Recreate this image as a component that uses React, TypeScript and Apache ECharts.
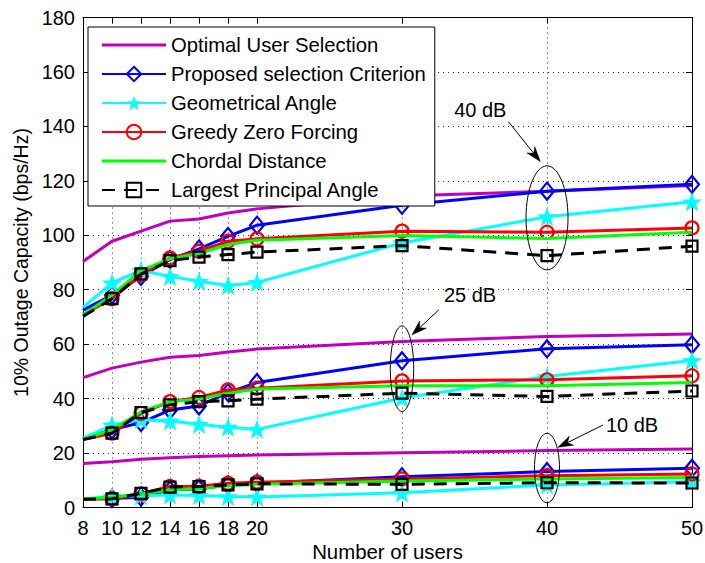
import React, { useEffect, useRef } from 'react';
import * as echarts from 'echarts';

// ---- data ----
const users = [8, 10, 12, 14, 16, 18, 20, 30, 40, 50];
const xTicks = [8, 10, 12, 14, 16, 18, 20, 30, 40, 50];
const yTicks = [0, 20, 40, 60, 80, 100, 120, 140, 160, 180];

// 40 dB
const optimal40 = [90.4, 97.8, 101.5, 105.2, 106, 108.2, 109.7, 114.4, 116.2, 118.3];
const proposed40 = [72.5, 78, 84.9, 91.1, 95, 99.6, 103.7, 111, 116.2, 118.7];
const geometric40 = [73.5, 82.5, 87.1, 84.9, 83.1, 81.5, 82.7, 97.2, 106.8, 112.3];
const greedy40 = [70.8, 76.7, 85.5, 91.7, 94.1, 97.8, 98.7, 101.5, 101.1, 102.7];
const chordal40 = [70.8, 78, 87, 91.4, 93.3, 96.6, 98.2, 99.9, 98.8, 101.1];
const largest40 = [70.2, 76.7, 85.8, 90.7, 92, 92.9, 93.8, 96.2, 92.5, 96];

// 25 dB
const optimal25 = [47.7, 51.2, 53.4, 55.2, 55.8, 57.1, 58.2, 61, 62.8, 63.7];
const proposed25 = [25.4, 28.5, 31.2, 35.8, 37.3, 42.2, 45.9, 53.9, 58.3, 59.8];
const geometric25 = [25.4, 30.3, 32.2, 31.8, 30.6, 29.5, 28.7, 40.2, 48.1, 54];
const greedy25 = [25, 27.3, 34.6, 38.9, 40.4, 43.2, 43.8, 46.5, 46.9, 48.4];
const chordal25 = [25, 28.5, 35.2, 38.9, 39.8, 42, 43.5, 44.7, 44.7, 45.9];
const largest25 = [25, 27.3, 34.9, 37.7, 38.9, 39.2, 39.8, 42, 40.8, 42.8];

// 10 dB
const optimal10 = [16.2, 16.8, 17.7, 18.3, 18.7, 19, 19.3, 20.1, 20.9, 21.5];
const proposed10 = [3.1, 3.3, 3.8, 6.4, 6.9, 8.3, 8.9, 11.3, 13.2, 14.4];
const geometric10 = [3.1, 4, 4.3, 4.6, 4.4, 4, 3.9, 5.4, 8.3, 9.5];
const greedy10 = [3.1, 3.2, 5, 7.7, 7.8, 8.9, 9.3, 10.5, 11.7, 12.3];
const chordal10 = [3.1, 3.8, 5, 6.4, 7, 8, 8.5, 9.7, 10.5, 11];
const largest10 = [3, 3.2, 5.2, 7.5, 7.7, 8.3, 8.7, 8.5, 9.1, 9];

const methodNames = [
  'Optimal User Selection',
  'Proposed selection Criterion',
  'Geometrical Angle',
  'Greedy Zero Forcing',
  'Chordal Distance',
  'Largest Principal Angle',
];
const methodData = [
  [optimal40, optimal25, optimal10],
  [proposed40, proposed25, proposed10],
  [geometric40, geometric25, geometric10],
  [greedy40, greedy25, greedy10],
  [chordal40, chordal25, chordal10],
  [largest40, largest25, largest10],
];

// SNR annotations (anchor = ellipse centre, in data units)
const snrLabels = ['40 dB', '25 dB', '10 dB'];
const snrAnchorX = [40, 30, 40];
const snrAnchorY = [106.4, 51, 14.5];

// ---- styles ----
const FONT = 'Liberation Sans, Arial, Helvetica, sans-serif';
const STAR =
  'path://M0,-10 L2.35,-3.24 L9.51,-3.09 L3.8,1.24 L5.88,8.09 L0,4 L-5.88,8.09 L-3.8,1.24 L-9.51,-3.09 L-2.35,-3.24 Z';
const LINE_ICON = 'path://M0,0 L64,0 L64,3 L0,3 Z';

const methodStyles = [
  { color: '#BF00BF', symbol: 'none', size: 0, hollow: false, dash: 'solid' as any },
  { color: '#0000FF', symbol: 'diamond', size: [14, 17], hollow: true, dash: 'solid' as any },
  { color: '#00FFFF', symbol: STAR, size: [20, 19], hollow: false, dash: 'solid' as any },
  { color: '#FF0000', symbol: 'circle', size: 13, hollow: true, dash: 'solid' as any },
  { color: '#00FF00', symbol: 'none', size: 0, hollow: false, dash: 'solid' as any },
  { color: '#000000', symbol: 'rect', size: 11, hollow: true, dash: [13, 9] as any },
];

// pixel geometry of annotations relative to ellipse centre
const annGeom = [
  { rx: 21, ry: 52, text: [-66.7, -107.8], from: [-38.7, -96.3], to: [-6.7, -56.3] },
  { rx: 11.7, ry: 42.8, text: [68, -73.8], from: [36.8, -58.8], to: [10, -33.8] },
  { rx: 12.5, ry: 34.7, text: [85, -43], from: [56, -43], to: [11, -20.7] },
];

function buildSeries() {
  const series: any[] = [];
  methodNames.forEach((name, m) => {
    const st = methodStyles[m];
    methodData[m].forEach((vals) => {
      series.push({
        type: 'line',
        name,
        data: users.map((u, i) =>
          i === 0 ? { value: [u, vals[i]], symbol: 'none' } : [u, vals[i]]
        ),
        symbol: st.symbol,
        symbolSize: st.size,
        showSymbol: st.symbol !== 'none',
        silent: true,
        emphasis: { disabled: true },
        z: 2 + m,
        lineStyle: { color: st.color, width: 3, type: st.dash },
        itemStyle: st.hollow
          ? { color: 'rgba(255,255,255,0)', borderColor: st.color, borderWidth: 2.2 }
          : { color: st.color, borderWidth: 0 },
      });
    });
  });
  return series;
}

const legendData = methodNames.map((name, m) =>
  methodStyles[m].symbol === 'none'
    ? { name, icon: LINE_ICON, itemStyle: { color: methodStyles[m].color } }
    : { name }
);

const axisCommon = {
  axisLine: { show: true, onZero: false, lineStyle: { color: '#000', width: 1 } },
  axisTick: { show: true, inside: true, length: 6, lineStyle: { color: '#000', width: 1 } },
};

const option: any = {
  animation: false,
  backgroundColor: '#fff',
  grid: { left: 83, right: 13, top: 17.5, bottom: 55.5, containLabel: false, outerBoundsMode: 'none' },
  legend: {
    data: legendData,
    orient: 'vertical',
    left: 88,
    top: 27,
    padding: [8, 9, 6, 13],
    itemGap: 9,
    itemWidth: 64,
    itemHeight: 18,
    backgroundColor: '#fff',
    borderColor: '#000',
    borderWidth: 1,
    borderRadius: 0,
    selectedMode: false,
    textStyle: { fontFamily: FONT, fontSize: 20.3, color: '#000' },
    z: 20,
  },
  xAxis: [
    {
      type: 'value',
      min: 8,
      max: 50,
      position: 'bottom',
      ...axisCommon,
      axisTick: { ...axisCommon.axisTick, customValues: xTicks },
      axisLabel: {
        show: true,
        customValues: xTicks,
        margin: 10,
        color: '#000',
        fontFamily: FONT,
        fontSize: 20,
      },
      splitLine: { show: true, lineStyle: { color: '#333', width: 1, type: [1, 4] } },
      name: 'Number of users',
      nameLocation: 'middle',
      nameGap: 33,
      nameTextStyle: { fontFamily: FONT, fontSize: 20.4, color: '#000' },
    },
    {
      type: 'value',
      min: 8,
      max: 50,
      position: 'top',
      ...axisCommon,
      axisTick: { ...axisCommon.axisTick, customValues: xTicks },
      axisLabel: { show: false },
      splitLine: { show: false },
    },
  ],
  yAxis: [
    {
      type: 'value',
      min: 0,
      max: 180,
      interval: 20,
      position: 'left',
      ...axisCommon,
      axisLabel: {
        show: true,
        margin: 8,
        color: '#000',
        fontFamily: FONT,
        fontSize: 20,
        formatter: (v: number) => (yTicks.includes(v) ? String(v) : ''),
      },
      splitLine: { show: true, lineStyle: { color: '#333', width: 1, type: [1, 4] } },
      name: '10% Outage Capacity (bps/Hz)',
      nameLocation: 'middle',
      nameGap: 46,
      nameTextStyle: { fontFamily: FONT, fontSize: 19.5, color: '#000' },
    },
    {
      type: 'value',
      min: 0,
      max: 180,
      interval: 20,
      position: 'right',
      ...axisCommon,
      axisLabel: { show: false },
      splitLine: { show: false },
    },
  ],
  series: buildSeries(),
};

export default function App() {
  const ref = useRef<HTMLDivElement>(null);
  useEffect(() => {
    document.body.style.margin = '0';
    const chart = echarts.init(ref.current!, null, { renderer: 'svg' });
    chart.setOption(option);

    const elements: any[] = [];
    snrLabels.forEach((label, i) => {
      const p = chart.convertToPixel({ xAxisIndex: 0, yAxisIndex: 0 } as any, [snrAnchorX[i], snrAnchorY[i]]) as number[];
      const g = annGeom[i];
      const cx = p[0];
      const cy = p[1];
      elements.push({
        type: 'ellipse',
        shape: { cx, cy, rx: g.rx, ry: g.ry },
        style: { fill: 'none', stroke: '#000', lineWidth: 1 },
        z: 30,
        silent: true,
      });
      const sx = cx + g.from[0];
      const sy = cy + g.from[1];
      const tx = cx + g.to[0];
      const ty = cy + g.to[1];
      const dx = tx - sx;
      const dy = ty - sy;
      const len = Math.sqrt(dx * dx + dy * dy);
      const ux = dx / len;
      const uy = dy / len;
      const L = 15;
      const W = 10;
      const bx = tx - ux * L;
      const by = ty - uy * L;
      const nx = tx - ux * L * 0.7;
      const ny = ty - uy * L * 0.7;
      elements.push({
        type: 'line',
        shape: { x1: sx, y1: sy, x2: nx, y2: ny },
        style: { stroke: '#000', lineWidth: 1 },
        z: 30,
        silent: true,
      });
      elements.push({
        type: 'polygon',
        shape: {
          points: [
            [tx, ty],
            [bx - uy * W / 2, by + ux * W / 2],
            [nx, ny],
            [bx + uy * W / 2, by - ux * W / 2],
          ],
        },
        style: { fill: '#000', stroke: '#000', lineWidth: 0.5 },
        z: 30,
        silent: true,
      });
      elements.push({
        type: 'text',
        x: cx + g.text[0],
        y: cy + g.text[1],
        style: {
          text: label,
          fontFamily: FONT,
          fontSize: 20,
          fill: '#000',
          align: 'center',
          verticalAlign: 'middle',
          textAlign: 'center',
          textVerticalAlign: 'middle',
        },
        z: 30,
        silent: true,
      });
    });
    chart.setOption({ graphic: elements });

    return () => {
      chart.dispose();
    };
  }, []);
  return <div ref={ref} style={{ width: 705, height: 563 }} />;
}
